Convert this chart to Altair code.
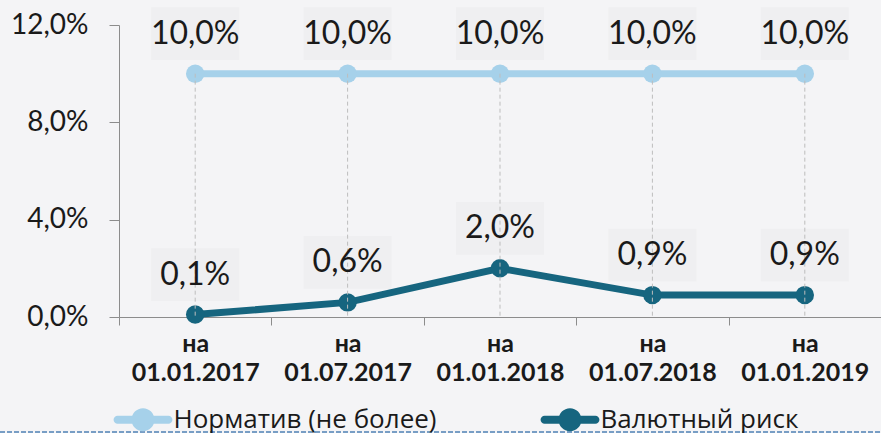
import altair as alt
import pandas as pd

# ---- data ----
periods = ["01.01.2017", "01.07.2017", "01.01.2018", "01.07.2018", "01.01.2019"]
norm_values = [10.0, 10.0, 10.0, 10.0, 10.0]
risk_values = [0.1, 0.6, 2.0, 0.9, 0.9]
series_names = ["Норматив (не более)", "Валютный риск"]
series_colors = ["#a6d1ea", "#16657f"]
y_ticks = [0, 4, 8, 12]

FONT = "Lato"
LEGEND_FONT = "Open Sans"

rows = []
for p, v in zip(periods, norm_values):
    rows.append({"period": "на " + p, "series": series_names[0], "value": v})
for p, v in zip(periods, risk_values):
    rows.append({"period": "на " + p, "series": series_names[1], "value": v})
df = pd.DataFrame(rows)
df["label"] = df["value"].map(lambda v: f"{v:.1f}".replace(".", ",") + "%")
x_order = ["на " + p for p in periods]

base = alt.Chart(df)

x_enc = alt.X(
    "period:N",
    sort=x_order,
    scale=alt.Scale(paddingInner=0, paddingOuter=0),
    axis=alt.Axis(
        title=None,
        labelAngle=0,
        tickBand="extent",
        tickSize=8,
        labelPadding=6,
        labelFont=FONT,
        labelFontSize=25,
        labelFontWeight="bold",
        labelColor="#1a1a1a",
        labelLineHeight=29,
        labelExpr="isValid(datum.value) ? split(datum.value, ' ') : ''",
        domainColor="#8c8c8c",
        tickColor="#8c8c8c",
        grid=False,
    ),
)
y_enc = alt.Y(
    "value:Q",
    scale=alt.Scale(domain=[0, 12], nice=False),
    axis=alt.Axis(
        title=None,
        values=y_ticks,
        tickSize=10,
        labelPadding=21,
        labelFont=FONT,
        labelFontSize=28,
        labelColor="#1a1a1a",
        labelExpr="replace(format(datum.value, '.1f'), '.', ',') + '%'",
        domainColor="#8c8c8c",
        tickColor="#8c8c8c",
        grid=False,
    ),
)
color_scale = alt.Scale(domain=series_names, range=series_colors)

legend_path = (
    "M-1.75,-0.28H1.75A0.28,0.28 0 0,1 1.75,0.28H-1.75A0.28,0.28 0 0,1 -1.75,-0.28Z"
    "M-0.79,0A0.79,0.79 0 1,1 0.79,0A0.79,0.79 0 1,1 -0.79,0Z"
)
legend = alt.Legend(
    title=None,
    orient="none",
    legendX=9.5,
    legendY=380,
    direction="horizontal",
    symbolType=legend_path,
    symbolSize=841,
    symbolStrokeWidth=0,
    symbolOpacity=1,
    labelFont=LEGEND_FONT,
    labelFontSize=26,
    labelColor="#1a1a1a",
    labelOffset=16,
    labelLimit=0,
    columnPadding=103,
    padding=0,
)

box_path = "M-1,-0.6H1V0.6H-1Z"
boxes = base.mark_point(
    shape=box_path, size=7744, filled=True, opacity=1, color="#efeff1", strokeWidth=0, yOffset=-40
).encode(x=x_enc, y=y_enc)

lines = base.mark_line(strokeWidth=7).encode(
    x=x_enc, y=y_enc,
    color=alt.Color("series:N", scale=color_scale, legend=legend),
    detail="series:N",
)
points = base.mark_circle(size=340, opacity=1).encode(
    x=x_enc, y=y_enc,
    color=alt.Color("series:N", scale=color_scale, legend=legend),
)
drops = base.transform_filter(
    alt.datum.series == series_names[0]
).mark_rule(color="#bdbdbd", strokeWidth=1, strokeDash=[4, 3]).encode(
    x=x_enc, y=y_enc, y2=alt.datum(0)
)
texts = base.mark_text(
    font=FONT, fontSize=32, color="#1a1a1a", baseline="middle", dy=-40
).encode(x=x_enc, y=y_enc, text="label:N")

bottom_line = alt.Chart(pd.DataFrame({"a": [0]})).mark_rule(
    color="#4f81b5", strokeWidth=1.5, strokeDash=[5, 2]
).encode(x=alt.value(-119), x2=alt.value(762), y=alt.value(407))

chart = alt.layer(boxes, lines, points, drops, texts, bottom_line).properties(
    width=762,
    height=292,
    padding={"left": 119, "top": 25, "right": 0, "bottom": 116},
    autosize="none",
    background="#f4f4f6",
).configure_view(stroke=None).configure_legend(
    symbolFillColor=None
)

chart.save("out.html", embed_options={"renderer": "svg", "actions": False})
